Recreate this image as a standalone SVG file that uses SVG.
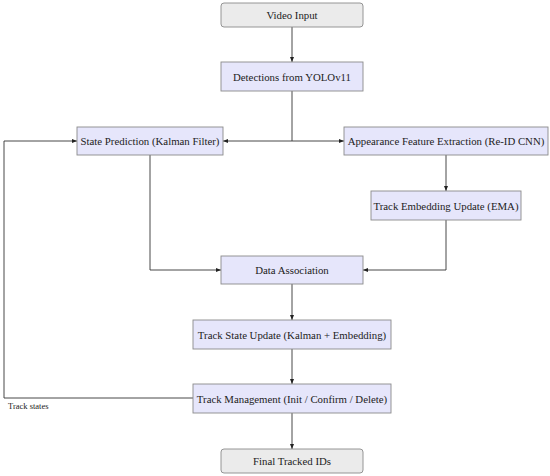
<svg xmlns="http://www.w3.org/2000/svg" width="550" height="476" viewBox="0 0 550 476">
<style>
.box{fill:#e6e6fb;stroke:#8a8a8a;stroke-width:0.9}
.term{fill:#ebebeb;stroke:#8a8a8a;stroke-width:0.9}
text{font-family:'Liberation Serif','Times New Roman',serif}
.t{font-size:10.8px;fill:#222;text-anchor:middle;dominant-baseline:central}
.lbl{font-size:8.5px;fill:#222}
.c{fill:none;stroke:#333;stroke-width:0.9}
</style>
<defs>
<marker id="a" viewBox="0 0 10 10" refX="10" refY="5" markerWidth="5" markerHeight="5" orient="auto" markerUnits="userSpaceOnUse">
<path d="M0,1 L10,5 L0,9 Z" fill="#222"/>
</marker>
</defs>
<g id="connectors">
<path class="c" d="M292,27 V62" marker-end="url(#a)"/>
<path class="c" d="M292,91 V141 H223" marker-end="url(#a)"/>
<path class="c" d="M292,141 H344" marker-end="url(#a)"/>
<path class="c" d="M446,155 V191" marker-end="url(#a)"/>
<path class="c" d="M150,155 V270 H221" marker-end="url(#a)"/>
<path class="c" d="M446,220 V270 H363" marker-end="url(#a)"/>
<path class="c" d="M292,284 V320" marker-end="url(#a)"/>
<path class="c" d="M292,349 V384" marker-end="url(#a)"/>
<path class="c" d="M292,413 V449" marker-end="url(#a)"/>
<path class="c" d="M193,398 H4 V141 H77" marker-end="url(#a)"/>
<text class="lbl" x="8" y="409">Track states</text>
</g>
<g id="video"><rect class="term" x="221" y="3" width="142" height="24" rx="3"/><text class="t" x="292" y="15">Video Input</text></g>
<g id="detections"><rect class="box" x="221" y="62" width="142" height="29"/><text class="t" x="292" y="76.5">Detections from YOLOv11</text></g>
<g id="prediction"><rect class="box" x="77" y="127" width="146" height="28"/><text class="t" x="150" y="141">State Prediction (Kalman Filter)</text></g>
<g id="appearance"><rect class="box" x="344" y="127" width="204" height="28"/><text class="t" x="446" y="141">Appearance Feature Extraction (Re-ID CNN)</text></g>
<g id="embedding"><rect class="box" x="371" y="191" width="150" height="29"/><text class="t" x="446" y="205.5">Track Embedding Update (EMA)</text></g>
<g id="association"><rect class="box" x="221" y="256" width="142" height="28"/><text class="t" x="292" y="270">Data Association</text></g>
<g id="stateupdate"><rect class="box" x="193" y="320" width="198" height="29"/><text class="t" x="292" y="334.5">Track State Update (Kalman + Embedding)</text></g>
<g id="management"><rect class="box" x="193" y="384" width="198" height="29"/><text class="t" x="292" y="398.5">Track Management (Init / Confirm / Delete)</text></g>
<g id="final"><rect class="term" x="221" y="449" width="142" height="24" rx="3"/><text class="t" x="292" y="461">Final Tracked IDs</text></g>
</svg>
